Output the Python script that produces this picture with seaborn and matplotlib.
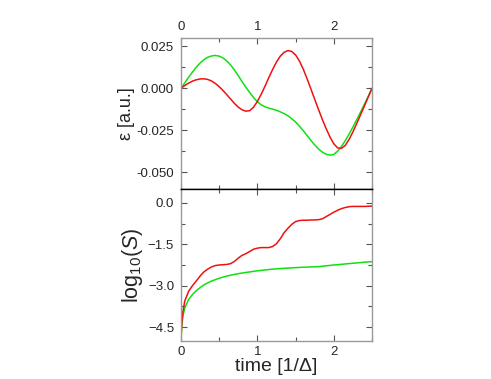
import numpy as np
import pandas as pd
import matplotlib
matplotlib.use("Agg")
import matplotlib.pyplot as plt
from matplotlib.ticker import MultipleLocator
import seaborn as sns

# Datos (panel superior: epsilon)
t_eps = [0.00, 0.05, 0.10, 0.15, 0.20, 0.25, 0.30, 0.35, 0.40, 0.45,
         0.50, 0.55, 0.60, 0.65, 0.70, 0.75, 0.80, 0.85, 0.90, 0.95,
         1.00, 1.05, 1.10, 1.15, 1.20, 1.25, 1.30, 1.35, 1.40, 1.45,
         1.50, 1.55, 1.60, 1.65, 1.70, 1.75, 1.80, 1.85, 1.90, 1.95,
         2.00, 2.05, 2.10, 2.15, 2.20, 2.25, 2.30, 2.35, 2.40, 2.45, 2.50]
eps_verde = [0.0, 0.0033, 0.0066, 0.0097, 0.0126, 0.0151, 0.0171, 0.0185, 0.0193, 0.0196,
             0.0192, 0.0181, 0.0163, 0.0139, 0.0109, 0.0075, 0.0040, 0.0006, -0.0025, -0.0055,
             -0.0080, -0.0098, -0.0110, -0.0118, -0.0124, -0.0131, -0.0140, -0.0151, -0.0164, -0.0181,
             -0.0201, -0.0225, -0.0252, -0.0281, -0.0310, -0.0337, -0.0361, -0.0380, -0.0393, -0.0398,
             -0.0394, -0.0375, -0.0347, -0.0312, -0.0273, -0.0231, -0.0187, -0.0142, -0.0096, -0.0049, 0.0]
eps_rojo = [0.0, 0.0017, 0.0031, 0.0043, 0.0051, 0.0056, 0.0057, 0.0053, 0.0044, 0.0029,
            0.0010, -0.0013, -0.0038, -0.0064, -0.0090, -0.0112, -0.0128, -0.0136, -0.0133, -0.0112,
            -0.0078, -0.0035, 0.0013, 0.0064, 0.0113, 0.0157, 0.0192, 0.0215, 0.0225, 0.0220,
            0.0199, 0.0163, 0.0115, 0.0058, -0.0003, -0.0065, -0.0126, -0.0185, -0.0240, -0.0290,
            -0.0330, -0.0355, -0.0358, -0.0340, -0.0305, -0.0260, -0.0210, -0.0158, -0.0106, -0.0053, 0.0]

# Panel inferior: log10(S)
t_s_verde = [0.0, 0.01, 0.025, 0.05, 0.1, 0.15, 0.2, 0.25, 0.3, 0.35, 0.4, 0.5, 0.6,
             0.7, 0.8, 0.9, 1.0, 1.2, 1.4, 1.6, 1.8, 2.0, 2.2, 2.4, 2.5]
logs_verde = [-4.95, -4.5, -4.1, -3.8, -3.5, -3.32, -3.18, -3.07, -2.97, -2.9, -2.83, -2.73, -2.65,
              -2.59, -2.54, -2.5, -2.46, -2.40, -2.36, -2.33, -2.31, -2.25, -2.2, -2.15, -2.13]
t_s_rojo = [0.0, 0.01, 0.025, 0.05, 0.1, 0.15, 0.2, 0.25, 0.3, 0.35, 0.4, 0.45,
            0.5, 0.55, 0.6, 0.65, 0.7, 0.75, 0.8, 0.85, 0.9, 0.95, 1.0, 1.05,
            1.1, 1.15, 1.2, 1.25, 1.3, 1.35, 1.4, 1.45, 1.5, 1.55, 1.6, 1.65,
            1.7, 1.75, 1.8, 1.85, 1.9, 1.95, 2.0, 2.05, 2.1, 2.15, 2.2, 2.25,
            2.3, 2.4, 2.5]
logs_rojo = [-4.95, -4.4, -3.95, -3.55, -3.2, -3.0, -2.83, -2.65, -2.5, -2.4, -2.32, -2.27,
             -2.25, -2.24, -2.23, -2.2, -2.12, -2.0, -1.9, -1.84, -1.76, -1.68, -1.64, -1.62,
             -1.62, -1.62, -1.58, -1.48, -1.3, -1.08, -0.92, -0.78, -0.68, -0.64, -0.63, -0.63,
             -0.62, -0.62, -0.61, -0.58, -0.5, -0.42, -0.34, -0.27, -0.21, -0.17, -0.14, -0.13,
             -0.13, -0.13, -0.12]

verde = "#10e010"
rojo = "#ee1111"

sns.set_style("ticks")
plt.rcParams["font.family"] = ["Liberation Sans", "DejaVu Sans"]
plt.rcParams["mathtext.fontset"] = "custom"
plt.rcParams["mathtext.rm"] = "Liberation Sans"
plt.rcParams["mathtext.it"] = "Liberation Sans:italic"

df_eps = pd.DataFrame({"t": t_eps * 2,
                       "valor": eps_verde + eps_rojo,
                       "serie": ["verde"] * len(t_eps) + ["rojo"] * len(t_eps)})
df_s = pd.DataFrame({"t": t_s_verde + t_s_rojo,
                     "valor": logs_verde + logs_rojo,
                     "serie": ["verde"] * len(t_s_verde) + ["rojo"] * len(t_s_rojo)})

fig = plt.figure(figsize=(4.91, 3.79), dpi=100)
ax1 = fig.add_axes([0.3686, 0.5013, 0.389, 0.3984])
ax2 = fig.add_axes([0.3686, 0.1003, 0.389, 0.4010])

paleta = {"verde": verde, "rojo": rojo}
sns.lineplot(data=df_eps, x="t", y="valor", hue="serie", palette=paleta,
             ax=ax1, legend=False, linewidth=1.1)
sns.lineplot(data=df_s, x="t", y="valor", hue="serie", palette=paleta,
             ax=ax2, legend=False, linewidth=1.1)

ax1.set_xlim(0, 2.5)
ax1.set_ylim(-0.06, 0.03)
ax1.set_yticks([0.025, 0.0, -0.025, -0.05])
ax1.set_yticklabels(["0.025", "0.000", "-0.025", "-0.050"])
ax1.yaxis.set_minor_locator(MultipleLocator(0.0125))
ax1.xaxis.set_major_locator(MultipleLocator(1))
ax1.xaxis.set_minor_locator(MultipleLocator(0.5))
ax1.xaxis.tick_top()
ax1.set_xlabel("")
ax1.set_ylabel("ε [a.u.]", fontsize=13, labelpad=1)

ax2.set_xlim(0, 2.5)
ax2.set_ylim(-5.0, 0.5)
ax2.set_yticks([0.0, -1.5, -3.0, -4.5])
ax2.yaxis.set_minor_locator(MultipleLocator(0.75))
ax2.xaxis.set_major_locator(MultipleLocator(1))
ax2.xaxis.set_minor_locator(MultipleLocator(0.5))
ax2.set_xlabel("time [1/Δ]", fontsize=14, labelpad=0)
ax2.set_ylabel("log$_{10}$($S$)", fontsize=15.5, labelpad=2)

for ax in (ax1, ax2):
    ax.tick_params(which="both", direction="in", top=True, bottom=True,
                   left=True, right=True, labelsize=9.5, color="#555555")
    ax.tick_params(which="major", length=4, width=0.8)
    ax.tick_params(which="minor", length=3, width=0.8)
    for lado in ("left", "right", "top", "bottom"):
        ax.spines[lado].set_color("#999999")
        ax.spines[lado].set_linewidth(1.0)

ax1.tick_params(axis="y", pad=5)
ax2.tick_params(axis="y", pad=5)
ax1.tick_params(labeltop=True, labelbottom=False)
ax2.tick_params(labelbottom=True, labeltop=False)
ax1.spines["bottom"].set_color("black")
ax2.spines["top"].set_color("black")

fig.savefig("out.png", dpi=100)
